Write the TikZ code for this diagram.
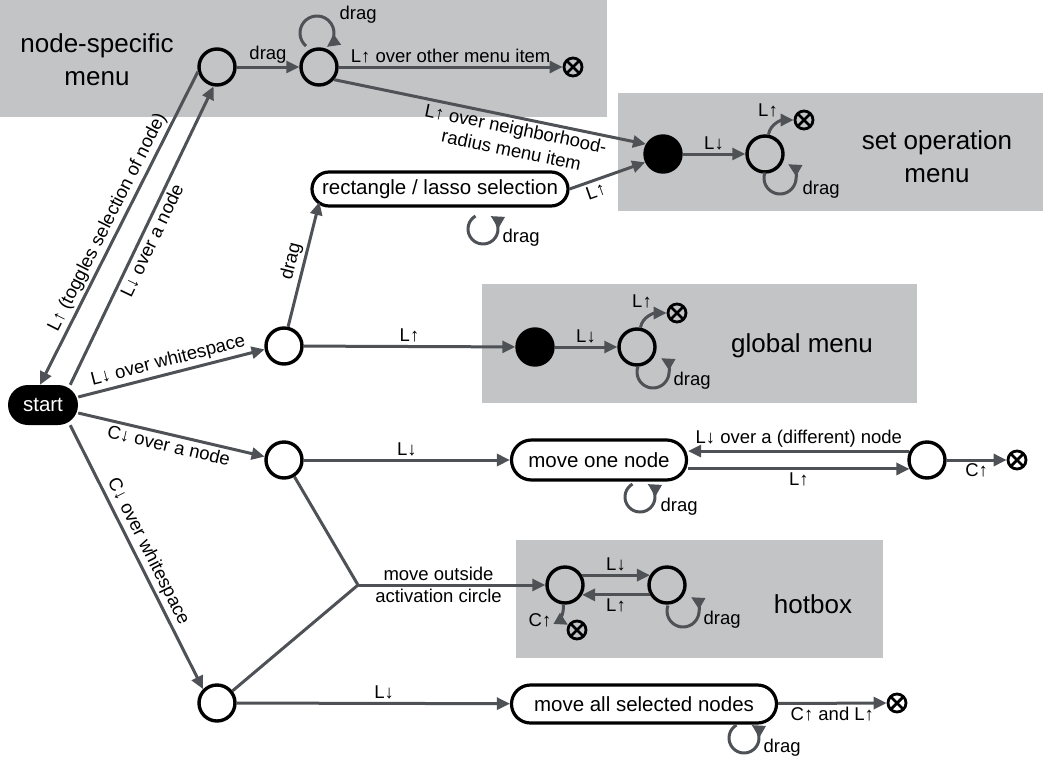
\documentclass[tikz,border=0pt]{standalone}
\usepackage{fontspec}
\setmainfont{Liberation Sans}
\usetikzlibrary{arrows.meta,calc}
\definecolor{panelgray}{RGB}{195,196,198}
\definecolor{edgegray}{RGB}{78,81,85}
\begin{document}
\begin{tikzpicture}[x=1pt,y=1pt,
  state/.style={circle,draw=black,line width=3.4pt,minimum size=36pt,inner sep=0pt},
  hub/.style={state,fill=black},
  endmark/.style={circle,draw=black,line width=2.8pt,minimum size=18pt,inner sep=0pt,
    path picture={\draw[line width=2.8pt]
      (path picture bounding box.south west) -- (path picture bounding box.north east)
      (path picture bounding box.north west) -- (path picture bounding box.south east);}},
  box/.style={rectangle,draw=black,line width=3.2pt,fill=white,minimum height=38pt,
    rounded corners=19pt,inner sep=0pt,font=\fontsize{20.5}{24}\selectfont},
  startbox/.style={rectangle,fill=black,text=white,minimum width=70pt,minimum height=40pt,
    rounded corners=20pt,inner sep=0pt,font=\fontsize{20.5}{24}\selectfont},
  edge/.style={draw=edgegray,line width=3pt,-{Triangle[length=13pt,width=12pt]}},
  plain/.style={draw=edgegray,line width=3pt},
  lbl/.style={font=\fontsize{18.5}{22}\selectfont,inner sep=2.5pt},
  big/.style={font=\fontsize{26}{33}\selectfont,align=center},
  panel/.style={fill=panelgray,draw=none}]

\useasboundingbox (0,0) rectangle (1048,-768);
\fill[white] (0,0) rectangle (1048,-768);

% shaded menu panels
\fill[panel] (0,0) rectangle (607,-117);
\fill[panel] (618,-93) rectangle (1043,-211);
\fill[panel] (482,-284) rectangle (917,-403);
\fill[panel] (516,-540) rectangle (883,-658);

\node[big] at (97,-60) {node-specific\\menu};
\node[big] at (937,-157) {set operation\\menu};
\node[big] at (802,-346) {global menu};
\node[big] at (813,-604) {hotbox};

% states
\node[startbox] (st) at (43,-405) {start};
\node[state] (A) at (217,-67) {};
\node[state] (B) at (319,-67) {};
\node[endmark] (XB) at (573,-67) {};
\node[hub] (Sb) at (663,-154) {};
\node[state] (S2) at (765,-154) {};
\node[endmark] (XS) at (804,-120) {};
\node[state] (C) at (284,-346) {};
\node[state] (D) at (284,-460) {};
\node[state] (E) at (217,-703) {};
\node[box,minimum width=256pt,minimum height=34pt,rounded corners=17pt] (L) at (440,-189) {rectangle / lasso selection};
\node[hub] (Gb) at (535,-347) {};
\node[state] (G2) at (637,-347) {};
\node[endmark] (XG) at (677,-313) {};
\node[box,minimum width=175pt,minimum height=40pt,rounded corners=20pt] (M1) at (599,-460) {move one node};
\node[state] (F) at (927,-460) {};
\node[endmark] (XF) at (1017,-460) {};
\coordinate (J) at (358,-585);
\node[state] (H1) at (565,-585) {};
\node[state] (H2) at (667,-585) {};
\node[endmark] (XH) at (577,-630) {};
\node[box,minimum width=265pt] (M2) at (644,-704) {move all selected nodes};
\node[endmark] (XM) at (897,-703) {};

% node-specific menu
\draw[edge] (A) -- node[lbl,above]{drag} (B);
\draw[edge] ([shift={(-2,34)}]B.center) ++(230:17) arc[start angle=230,end angle=-55,radius=17];
\node[lbl,anchor=west] at (337,-15) {drag};
\draw[edge] (B) -- node[lbl,above]{L↑ over other menu item} (XB);
\draw[edge] (B.-40) -- node[lbl,below,sloped,pos=0.59,align=center]{L↑ over neighborhood-\\radius menu item} (Sb.150);

% set operation menu
\draw[edge] (L.east) -- node[lbl,below,sloped,pos=0.3]{L↑} (Sb.205);
\draw[edge] (Sb) -- node[lbl,above]{L↓} (S2);
\draw[edge] (S2.80) to[out=80,in=180] (XS);
\node[lbl] at (768,-110) {L↑};
\draw[edge] ([shift={(15,-24)}]S2.center) ++(160:16) arc[start angle=160,end angle=420,radius=16];
\node[lbl,anchor=west] at (800,-190) {drag};

% from start
\draw[edge] (A.194) -- node[lbl,above,sloped]{L↑ (toggles selection of node)} ([xshift=-3pt]st.north);
\draw[edge] ([xshift=-8pt]st.north east) -- node[lbl,below,sloped]{L↓ over a node} (A.260);
\draw[edge] ([yshift=8pt]st.east) -- node[lbl,above,sloped]{L↓ over whitespace} (C.190);
\draw[edge] ([yshift=-8pt]st.east) -- node[lbl,below,sloped]{C↓ over a node} (D.170);
\draw[edge] ([xshift=-8pt]st.south east) -- node[lbl,above,sloped]{C↓ over whitespace} (E.135);

% rectangle / lasso selection
\draw[edge] (C.78) -- node[lbl,above,sloped]{drag} ($(L.west)+(9pt,-13pt)$);
\draw[edge] ([shift={(43,-40)}]L.center) ++(120:15) arc[start angle=120,end angle=420,radius=15];
\node[lbl,anchor=west] at (500,-238) {drag};

% global menu
\draw[edge] (C) -- node[lbl,above]{L↑} (Gb);
\draw[edge] (Gb) -- node[lbl,above]{L↓} (G2);
\draw[edge] (G2.80) to[out=80,in=180] (XG);
\node[lbl] at (642,-301) {L↑};
\draw[edge] ([shift={(16,-25)}]G2.center) ++(160:16) arc[start angle=160,end angle=420,radius=16];
\node[lbl,anchor=west] at (671,-381) {drag};

% move one node
\draw[edge] (D) -- node[lbl,above]{L↓} (M1);
\draw[edge] (F.153) -- node[lbl,above]{L↓ over a (different) node} (F.153 -| M1.east);
\draw[edge] (F.207 -| M1.east) -- node[lbl,below]{L↑} (F.207);
\draw[edge] (F) -- node[lbl,below]{C↑} (XF);
\draw[edge] ([shift={(41,-37)}]M1.center) ++(120:15) arc[start angle=120,end angle=420,radius=15];
\node[lbl,anchor=west] at (658,-507) {drag};

% hotbox
\draw[plain] (D.-58) -- (J);
\draw[plain] (E.38) -- (J);
\draw[edge] (J) -- node[lbl,above,pos=0.43]{move outside} node[lbl,below,pos=0.43]{activation circle} (H1);
\draw[edge] (H1.30) -- node[lbl,above]{L↓} (H2.150);
\draw[edge] (H2.210) -- node[lbl,below]{L↑} (H1.330);
\draw[edge] (H1.265) to[out=-85,in=150] (XH);
\node[lbl] at (540,-620) {C↑};
\draw[edge] ([shift={(16,-26)}]H2.center) ++(160:16) arc[start angle=160,end angle=420,radius=16];
\node[lbl,anchor=west] at (701,-620) {drag};

% move all selected nodes
\draw[edge] (E) -- node[lbl,above,pos=0.54]{L↓} (M2);
\draw[edge] (M2) -- node[lbl,below]{C↑ and L↑} (XM);
\draw[edge] ([shift={(100,-34)}]M2.center) ++(120:15) arc[start angle=120,end angle=420,radius=15];
\node[lbl,anchor=west] at (761,-748) {drag};
\end{tikzpicture}
\end{document}
